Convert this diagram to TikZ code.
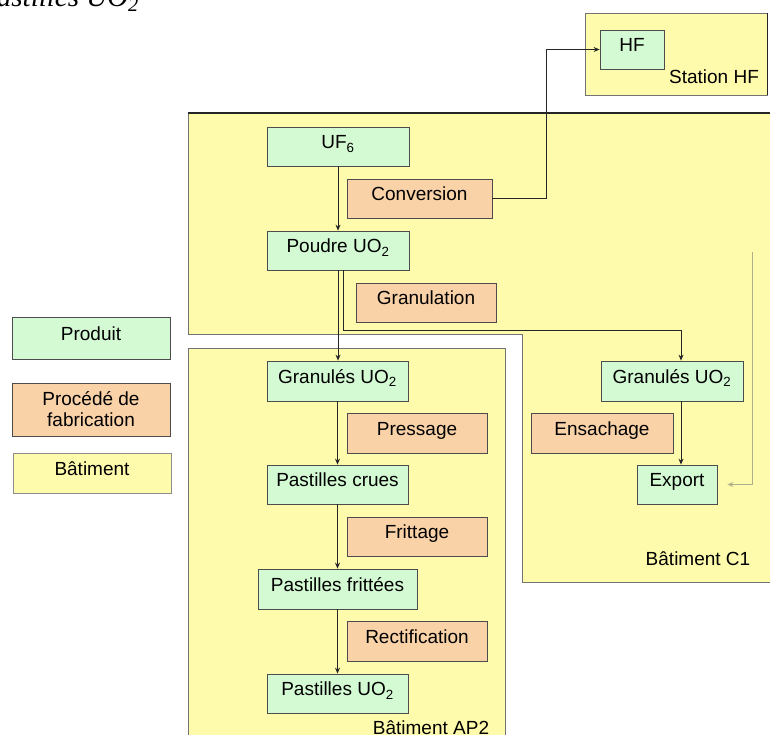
\documentclass[tikz,border=0pt]{standalone}
\usepackage{fontspec}
\setmainfont{Liberation Sans}
\newfontfamily\capfont{Liberation Serif}
\usetikzlibrary{arrows.meta}
\definecolor{prodg}{RGB}{212,250,212}
\definecolor{procor}{RGB}{250,210,168}
\definecolor{batyel}{RGB}{255,251,172}
\definecolor{retline}{RGB}{175,175,140}
\begin{document}
\begin{tikzpicture}[x=1pt,y=-1pt,
 box/.style={draw=black!70, line width=0.8pt, inner sep=0pt, font=\fontsize{19}{21}\selectfont},
 txt/.style={text height=14pt, text depth=9.4pt},
 prod/.style={box, txt, fill=prodg},
 proc/.style={box, txt, fill=procor},
 bat/.style={fill=batyel, draw=black!55, line width=0.8pt},
 lbl/.style={inner sep=0pt, font=\fontsize{19}{21}\selectfont},
 arr/.style={draw=black!85, line width=0.8pt, -{Stealth[length=6pt,width=5pt]}},
]
\useasboundingbox (0,0) rectangle (770,735);

% caption fragment
\node[font=\capfont\itshape\fontsize{29}{32}\selectfont, anchor=base west, inner sep=0pt] (cap) at (-21,6.5) {Pastilles UO\textsubscript{2}};

% buildings
\path[bat] (585,13) rectangle (767,95);
\draw[black!85, line width=1pt] (767,13) -- (767,95);
\path[bat] (188,113) -- (772,113) -- (772,582) -- (522,582) -- (522,334) -- (188,334) -- cycle;
\draw[black!85, line width=1.2pt] (188,113) -- (772,113);
\path[bat] (188,348) rectangle (505,740);

% product nodes
\node[prod, minimum width=64pt, minimum height=39pt] (hf) at (632,49.5) {HF};
\node[prod, minimum width=142pt, minimum height=39pt] (uf6) at (338,146.5) {UF\textsubscript{6}};
\node[proc, minimum width=145pt, minimum height=39pt] (conv) at (419.5,198.5) {Conversion};
\node[prod, minimum width=142pt, minimum height=39pt] (poudre) at (338,250.5) {Poudre UO\textsubscript{2}};
\node[proc, minimum width=140pt, minimum height=39pt] (granul) at (426,302.5) {Granulation};

\node[prod, minimum width=141pt, minimum height=40pt] (g1) at (337.5,381) {Granulés UO\textsubscript{2}};
\node[proc, minimum width=140pt, minimum height=40pt] (press) at (417,433) {Pressage};
\node[prod, minimum width=141pt, minimum height=39pt] (crues) at (337.5,484.5) {Pastilles crues};
\node[proc, minimum width=140pt, minimum height=39pt] (fritt) at (417,536.5) {Frittage};
\node[prod, minimum width=159pt, minimum height=40pt] (frittees) at (337.5,589) {Pastilles frittées};
\node[proc, minimum width=140pt, minimum height=40pt] (rect) at (417,641) {Rectification};
\node[prod, minimum width=141pt, minimum height=39pt] (puo2) at (337.5,693.5) {Pastilles UO\textsubscript{2}};

\node[prod, minimum width=142pt, minimum height=40pt] (c1gran) at (672,381) {Granulés UO\textsubscript{2}};
\node[proc, minimum width=142pt, minimum height=40pt] (ensach) at (602,433) {Ensachage};
\node[prod, minimum width=80pt, minimum height=39pt] (export) at (677,484.5) {Export};

% legend
\node[prod, minimum width=158pt, minimum height=42pt] (lprod) at (91,338) {Produit};
\node[box, fill=procor, align=center, minimum width=158pt, minimum height=53pt] (lproc) at (91,409.5) {Procédé de\\fabrication};
\node[prod, fill=batyel, draw=black!45, minimum width=158pt, minimum height=40pt] (lbat) at (92,473) {Bâtiment};

% building labels
\node[lbl] (sthf) at (714,77) {Station HF};
\node[lbl] (batc1) at (698,559) {Bâtiment C1};
\node[lbl] (batap2) at (431,728) {Bâtiment AP2};

% connectors
\draw[arr] (uf6.south) -- (uf6.south |- poudre.north);
\draw[arr] (conv.east) -- ++(54,0) |- (hf.west);
\draw[arr] (poudre.south) -- (poudre.south |- g1.north);
\draw[arr] ([xshift=5pt]poudre.south) -- ++(0,60) -| ([xshift=9pt]c1gran.north);
\draw[arr] (g1.south) -- (g1.south |- crues.north);
\draw[arr] (crues.south) -- (crues.south |- frittees.north);
\draw[arr] (frittees.south) -- (frittees.south |- puo2.north);
\draw[arr] ([xshift=9pt]c1gran.south) -- ([xshift=9pt]c1gran.south |- export.north);
\coordinate (ret) at (752,252);
\draw[arr, draw=retline] (ret) |- ([xshift=10pt]export.east);
\end{tikzpicture}
\end{document}
